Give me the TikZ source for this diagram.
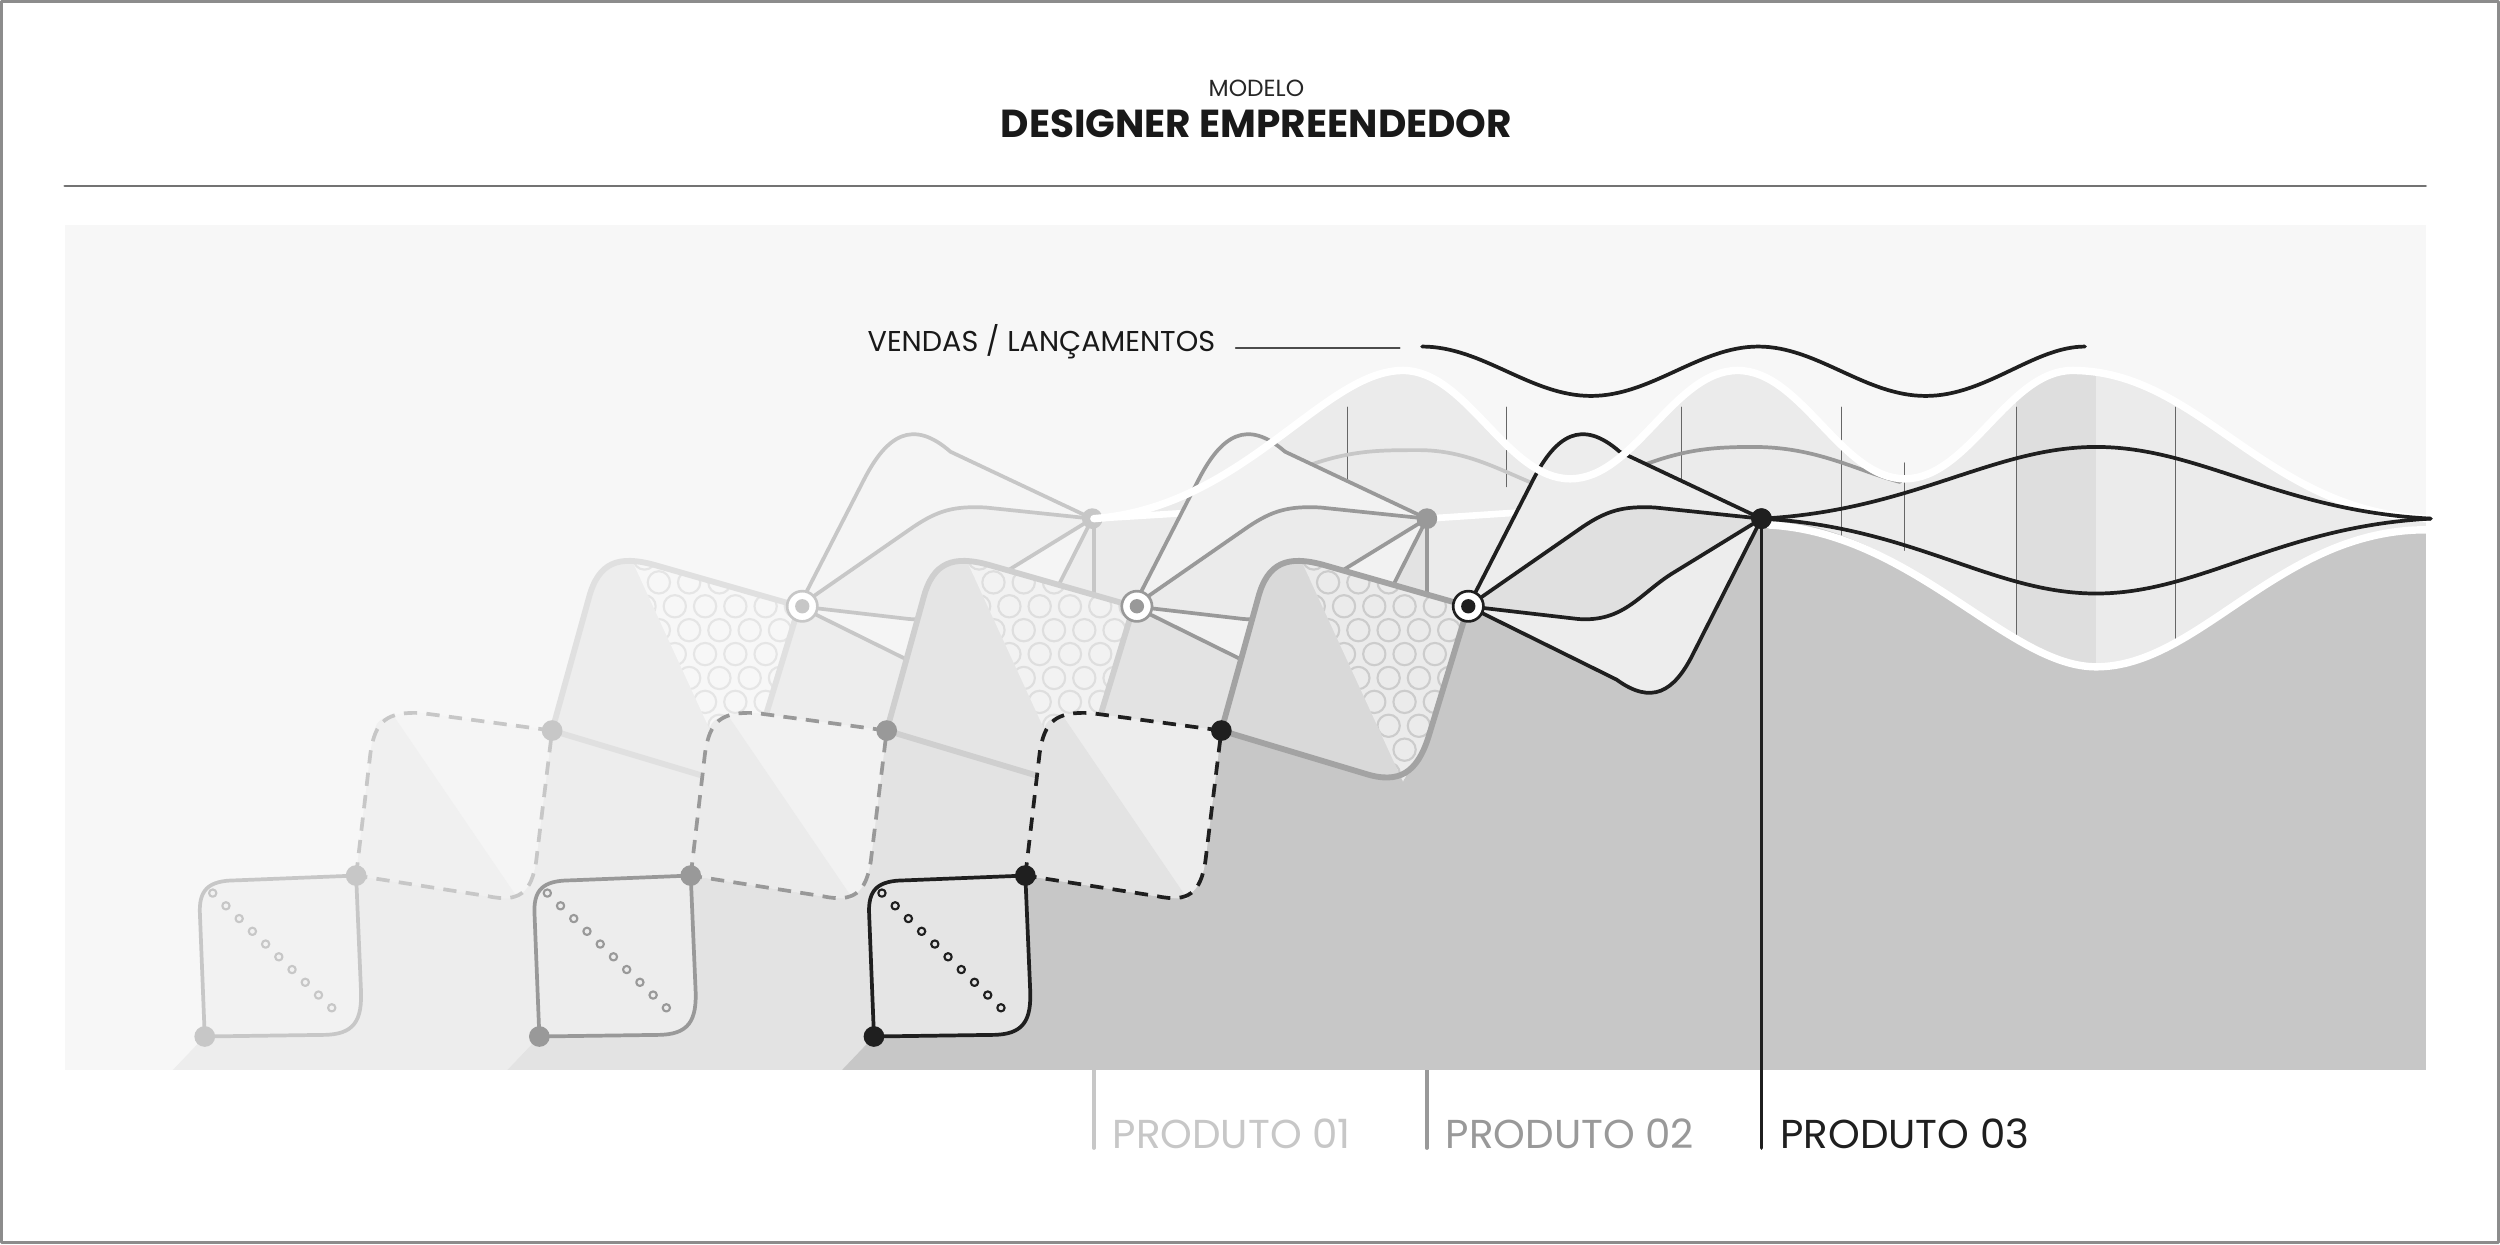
\documentclass[tikz,border=0pt]{standalone}
\usepackage{fontspec}
\setmainfont{Poppins}
\begin{document}
\begin{tikzpicture}[x=0.6pt,y=-0.6pt,line join=round,line cap=round]
\colorlet{p3line}{black!88}\colorlet{p3A}{black!10}\colorlet{p3B}{black!7}\colorlet{p3Bd}{black!11}\colorlet{p3C}{black!15}\colorlet{p3Cl}{black!36}\colorlet{p3Cp}{black!8}\colorlet{p3D}{black!7}\colorlet{p3Di}{black!12}\colorlet{p3g}{black!22}\colorlet{p3circ}{black!20}
\colorlet{p2line}{black!40}\colorlet{p2A}{black!7}\colorlet{p2B}{black!5}\colorlet{p2Bd}{black!8}\colorlet{p2C}{black!10}\colorlet{p2Cl}{black!19}\colorlet{p2Cp}{black!5}\colorlet{p2D}{black!5}\colorlet{p2Di}{black!8}\colorlet{p2g}{black!11}\colorlet{p2circ}{black!13}
\colorlet{p1line}{black!22}\colorlet{p1A}{black!5}\colorlet{p1B}{black!4}\colorlet{p1Bd}{black!6}\colorlet{p1C}{black!7}\colorlet{p1Cl}{black!12}\colorlet{p1Cp}{black!3}\colorlet{p1D}{black!4}\colorlet{p1Di}{black!6}\colorlet{p1g}{black!7}\colorlet{p1circ}{black!10}
\tikzset{pline/.style={line width=1.4pt}, dashbox/.style={line width=1.4pt,dash pattern=on 5pt off 3.5pt,line cap=butt}}
\newcommand\drawproduct[2]{%
\begin{scope}[shift={(#1,0)}]
\fill[#2g] (528,671) -- (548,650) -- (643,549) -- (766,458) -- (921,380) -- (1105,325) -- (1105,671) -- cycle;
% box A
\filldraw[fill=#2A,draw=#2line,pline] (548,650) -- (545,574) .. controls (544,558) and (550,552) .. (568,552) -- (643,549) -- (646,620) .. controls (647,640) and (642,649) .. (622,649) -- cycle;
\foreach \k in {0,...,9}{\draw[#2line,line width=0.8pt] ({553+\k*8.3},{560+\k*8}) circle[radius=2.3];}
% box B
\fill[#2B] (643,549) -- (652,472) .. controls (655,452) and (662,446) .. (684,447) -- (766,458) -- (756,540) .. controls (753,560) and (745,566) .. (726,562) -- cycle;
\fill[#2Bd] (643,549) -- (652,472) .. controls (655,452) .. (666,448) -- (745,564) -- (726,562) -- cycle;
\draw[dashbox,#2line] (643,549) -- (652,472) .. controls (655,452) and (662,446) .. (684,447) -- (766,458) -- (756,540) .. controls (753,560) and (745,566) .. (726,562) -- cycle;
% box C
\fill[#2C] (766,458) -- (789,375) .. controls (795,352) and (808,348) .. (830,354) -- (921,380) -- (896,462) .. controls (889,484) and (878,492) .. (856,485) -- cycle;
\begin{scope}
\clip (816,351) -- (921,380) -- (896,462) -- (880,490) -- cycle;
\fill[#2Cp] (816,351) -- (921,380) -- (896,462) -- (880,490) -- cycle;
\foreach \i in {0,...,6}{\foreach \j in {0,...,9}{\draw[#2circ,line width=0.8pt] ({805+\i*19+mod(\j,2)*9},{350+\j*15}) circle[radius=7];}}
\end{scope}
\draw[#2Cl,line width=2.2pt] (766,458) -- (789,375) .. controls (795,352) and (808,348) .. (830,354) -- (921,380) -- (896,462) .. controls (889,484) and (878,492) .. (856,485) -- cycle;
% kite D
\filldraw[fill=#2D,draw=#2line,pline] (921,380) -- (962,300) .. controls (976,273) and (992,262) .. (1016,283) -- (1105,325) -- (1062,410) .. controls (1050,434) and (1036,442) .. (1014,426) -- cycle;
\filldraw[fill=#2Di,draw=#2line,pline] (921,380) -- (993,330) .. controls (1008,320) and (1018,317) .. (1038,318) -- (1105,325) -- (1048,360) .. controls (1028,373) and (1018,390) .. (990,388) -- cycle;
% nodes
\fill[#2line] (548,650) circle[radius=6.5] (643,549) circle[radius=6.5] (766,458) circle[radius=6.5] (1105,325) circle[radius=6.5];
\end{scope}}
\newcommand\ringnode[2]{\filldraw[fill=white,draw=#2,line width=1pt] (#1) circle[radius=9.5]; \fill[#2] (#1) circle[radius=4.5];}
\newcommand\upperwave{(686,325) .. controls (780,318) and (830,232) .. (880,232) .. controls (920,232) and (945,300) .. (985,300) .. controls (1025,300) and (1050,232) .. (1090,232) .. controls (1130,232) and (1155,300) .. (1195,300) .. controls (1235,300) and (1260,232) .. (1300,232) .. controls (1380,232) and (1420,320) .. (1522,325)}
% frame
\fill[white] (0,0) rectangle (1568,780);
\draw[black!45,line width=1.2pt] (0.5,0.5) rectangle (1567.5,779.5);
\node[font=\fontsize{8.8}{10}\selectfont,text=black!85] (modelo) at (788,55) {MODELO};
\node[font=\bfseries\fontsize{14.7}{17}\selectfont,text=black!90] (title) at (788,77) {DESIGNER EMPREENDEDOR};
\draw[black!55,line width=0.8pt] (40,116) -- (1522,116);
\fill[black!3] (40,141) rectangle (1522,671);
% wave fill
\fill[black!8] \upperwave -- (1522,671) -- (686,671) -- cycle;
\begin{scope}
\clip \upperwave -- (1522,671) -- (686,671) -- cycle;
\fill[black!13] (1265,200) rectangle (1315,420);
\end{scope}
\foreach \x/\a/\b in {845/255/300,945/255/305,1055/255/300,1155/255/345,1195/290/345,1265/255/405,1365/255/405}{\draw[black!60,line width=0.35pt] (\x,\a) -- (\x,\b);}
% gray waves
\draw[black!22,line width=1.4pt] (800,300) .. controls (840,282) and (860,282) .. (890,282) .. controls (930,282) and (955,305) .. (990,312);
\draw[black!40,line width=1.4pt] (1010,300) .. controls (1050,282) and (1070,280) .. (1100,280) .. controls (1140,280) and (1165,295) .. (1192,302);
\draw[white,line width=2.5pt] (686,325) -- (800,318);
\draw[white,line width=2.5pt] (895,325) -- (1000,318);
% products
\drawproduct{-420}{p1}
\draw[p1line,line width=1.4pt] (686,325) -- (686,720);
\ringnode{503,380}{p1line}
\drawproduct{-210}{p2}
\draw[p2line,line width=1.4pt] (895,325) -- (895,720);
\ringnode{713,380}{p2line}
% p3 right ground
\fill[p3g] (1105,325) .. controls (1200,330) and (1260,418) .. (1315,418) .. controls (1380,418) and (1430,330) .. (1522,330) -- (1522,671) -- (1105,671) -- cycle;
\drawproduct{0}{p3}
\draw[p3line,line width=1.4pt] (1105,325) -- (1105,720);
\ringnode{921,380}{p3line}
% white envelopes
\draw[white,line width=2.8pt] \upperwave;
\draw[white,line width=2.8pt] (1110,329) .. controls (1200,334) and (1260,418) .. (1315,418) .. controls (1380,418) and (1430,332) .. (1522,332);
% black waves
\draw[p3line,pline] (1105,325) .. controls (1200,320) and (1250,280) .. (1315,280) .. controls (1380,280) and (1430,320) .. (1525,325);
\draw[p3line,pline] (1105,325) .. controls (1200,330) and (1250,372) .. (1315,372) .. controls (1380,372) and (1430,330) .. (1525,325);
\fill[p3line] (1105,325) circle[radius=6.5];
\draw[p3line,pline] (892,217) .. controls (930,217) and (960,248) .. (998,248) .. controls (1036,248) and (1066,217) .. (1103,217) .. controls (1140,217) and (1170,248) .. (1208,248) .. controls (1246,248) and (1276,217) .. (1308,217);
\draw[black!70,line width=0.6pt] (775,218) -- (878,218);
\node[anchor=east,font=\fontsize{10.8}{12}\selectfont,text=black!90] (vendas) at (768,214) {VENDAS / LANÇAMENTOS};
\node[anchor=west,font=\fontsize{15.2}{17}\selectfont,text=p1line] (prod1) at (692,711) {PRODUTO 01};
\node[anchor=west,font=\fontsize{15.2}{17}\selectfont,text=p2line] (prod2) at (901,711) {PRODUTO 02};
\node[anchor=west,font=\fontsize{15.2}{17}\selectfont,text=p3line] (prod3) at (1111,711) {PRODUTO 03};
\end{tikzpicture}
\end{document}
